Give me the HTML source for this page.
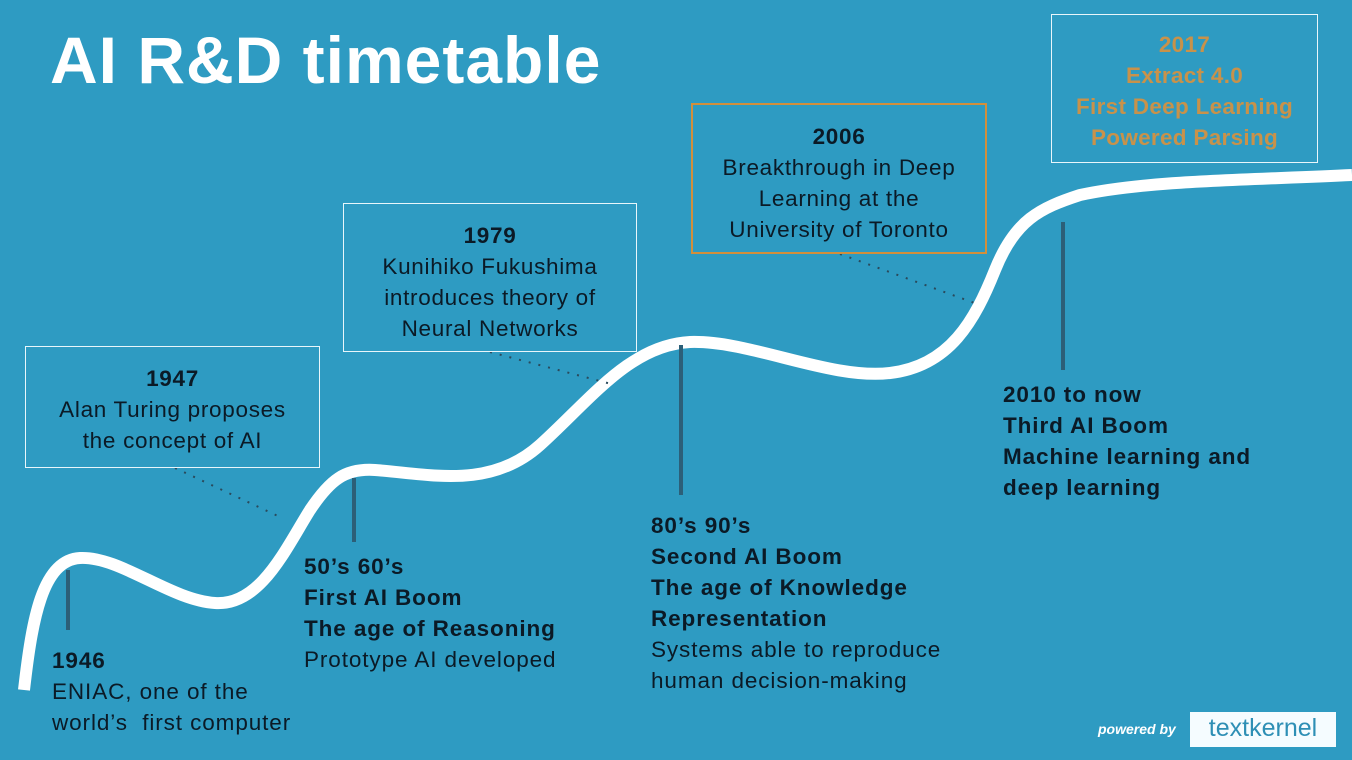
<!DOCTYPE html>
<html><head><style>
body{margin:0;width:1352px;height:760px;background:#2e9bc2;overflow:hidden;position:relative;font-family:"Liberation Sans","DejaVu Sans",sans-serif}
.t{position:absolute;font-size:22.5px;line-height:31px;color:#0b1a26;white-space:nowrap;letter-spacing:0.9px}
.b{font-weight:bold}
.box{position:absolute;border:1.5px solid #e8f6fb;color:#0b1a26;font-size:22.5px;line-height:31px;text-align:center;box-sizing:border-box;letter-spacing:0.7px;white-space:nowrap}
h1{position:absolute;left:50px;top:22px;margin:0;font-size:66px;color:#fff;font-weight:bold;letter-spacing:1px}
</style></head><body>
<h1>AI R&amp;D timetable</h1>
<svg width="1352" height="760" style="position:absolute;left:0;top:0">
<path d="M24,690 C32,620 42,560 80,558 C120,556 170,600 215,603 C260,606 285,550 310,510 C330,480 345,468 375,470 C430,474 490,490 540,445 C590,400 630,345 690,342 C750,340 830,380 890,373 C950,366 975,320 995,270 C1015,220 1040,208 1080,195 C1150,180 1250,180 1352,175" fill="none" stroke="#fff" stroke-width="12"/>
<g stroke="#2c5f78" stroke-width="4">
<line x1="68" y1="570" x2="68" y2="630"/>
<line x1="354" y1="478" x2="354" y2="542"/>
<line x1="681" y1="345" x2="681" y2="495"/>
<line x1="1063" y1="222" x2="1063" y2="370"/>
</g>
<g stroke="#2a4a5c" stroke-width="2" stroke-dasharray="2,8">
<line x1="175" y1="468" x2="280" y2="517"/>
<line x1="490" y1="352" x2="615" y2="385"/>
<line x1="840" y1="254" x2="980" y2="305"/>
</g>
</svg>
<div class="box" style="left:25px;top:346px;width:295px;height:122px;padding-top:16px"><b>1947</b><br>Alan Turing proposes<br>the concept of AI</div>
<div class="box" style="left:343px;top:203px;width:294px;height:149px;padding-top:16px"><b>1979</b><br>Kunihiko Fukushima<br>introduces theory of<br>Neural Networks</div>
<div class="box" style="left:691px;top:103px;width:296px;height:151px;padding-top:16px;border:2px solid #d28f3c"><b>2006</b><br>Breakthrough in Deep<br>Learning at the<br>University of Toronto</div>
<div class="box" style="left:1051px;top:14px;width:267px;height:149px;padding-top:14px;color:#c8924a;font-weight:bold;letter-spacing:0.3px"><span>2017</span><br>Extract 4.0<br>First Deep Learning<br>Powered Parsing</div>
<div class="t" style="left:52px;top:645px"><b>1946</b><br>ENIAC, one of the<br>world’s &nbsp;first computer</div>
<div class="t" style="left:304px;top:551px"><b>50’s 60’s<br>First AI Boom<br>The age of Reasoning</b><br>Prototype AI developed</div>
<div class="t" style="left:651px;top:510px"><b>80’s 90’s<br>Second AI Boom<br>The age of Knowledge<br>Representation</b><br>Systems able to reproduce<br>human decision-making</div>
<div class="t b" style="left:1003px;top:379px">2010 to now<br>Third AI Boom<br>Machine learning and<br>deep learning</div>
<div style="position:absolute;left:1098px;top:721px;color:#fff;font-style:italic;font-weight:bold;font-size:14px">powered by</div>
<div style="position:absolute;left:1190px;top:712px;width:146px;height:35px;background:#f5fcff;color:#2e8fb5;font-size:25px;line-height:33px;text-align:center">textkernel</div>
</body></html>
